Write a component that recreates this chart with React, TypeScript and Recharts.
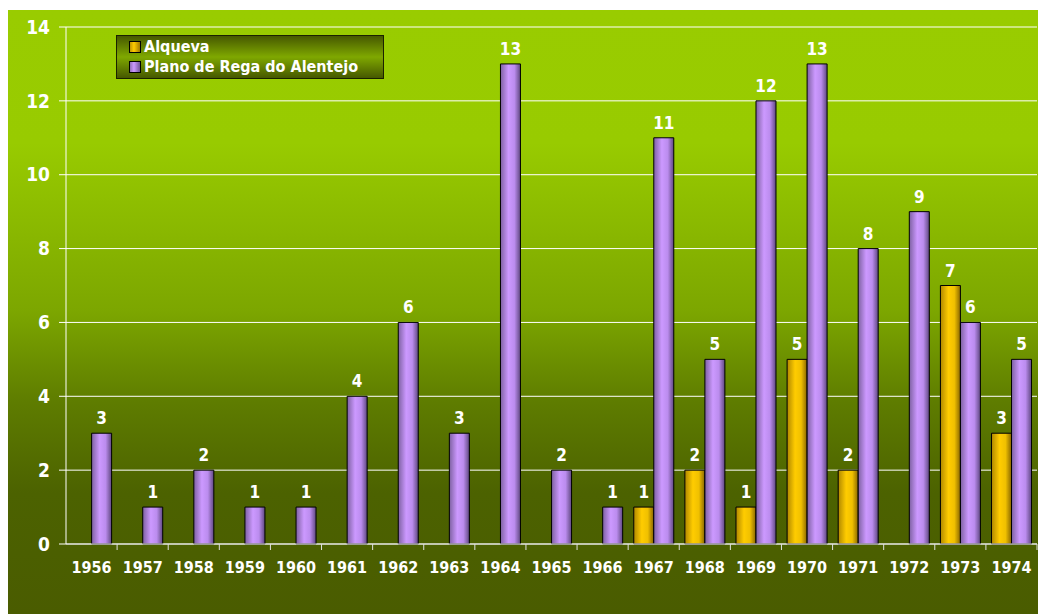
import { useLayoutEffect } from "react";
import { Bar, BarChart, CartesianGrid, LabelList, XAxis, YAxis } from "recharts";

const years = ["1956", "1957", "1958", "1959", "1960", "1961", "1962", "1963", "1964", "1965", "1966", "1967", "1968", "1969", "1970", "1971", "1972", "1973", "1974"];
const alqueva = [null, null, null, null, null, null, null, null, null, null, null, 1, 2, 1, 5, 2, null, 7, 3];
const planoRega = [3, 1, 2, 1, 1, 4, 6, 3, 13, 2, 1, 11, 5, 12, 13, 8, 9, 6, 5];
const yTicks = [0, 2, 4, 6, 8, 10, 12, 14];

const data = years.map((year, i) => ({ year, alqueva: alqueva[i], plano: planoRega[i] }));

const FONT = "'DejaVu Sans Condensed', 'DejaVu Sans', sans-serif";
const W = 1030;
const H = 604;
const margin = { top: 17, right: 1, bottom: 40, left: 8 };
const Y_W = 50;
const band = (W - margin.left - margin.right - Y_W) / years.length;

function XTick(props: any) {
  const { x, y, payload } = props;
  return (
    <g>
      <line x1={x + band / 2} x2={x + band / 2} y1={y} y2={y + 6} stroke="#e0e0e0" />
      <text x={x} y={y + 29} textAnchor="middle" fill="#fff" fontFamily={FONT} fontWeight="bold" fontSize={16}>
        {payload.value}
      </text>
    </g>
  );
}

function Swatch({ id }: { id: string }) {
  return (
    <svg width={12} height={12} style={{ marginRight: 3 }}>
      <defs>
        <linearGradient id={id + "-sw"} x1="0" y1="0" x2="1" y2="0">
          {id === "gold" ? (
            <>
              <stop offset="0" stopColor="#b88f00" />
              <stop offset="0.4" stopColor="#ffcc00" />
              <stop offset="1" stopColor="#9a7400" />
            </>
          ) : (
            <>
              <stop offset="0" stopColor="#8a6cae" />
              <stop offset="0.4" stopColor="#cc99ff" />
              <stop offset="1" stopColor="#6a5290" />
            </>
          )}
        </linearGradient>
      </defs>
      <rect x={0.5} y={0.5} width={11} height={11} fill={`url(#${id}-sw)`} stroke="#000" />
    </svg>
  );
}

function LegendBox() {
  return (
    <div
      style={{
        position: "absolute",
        left: 108,
        top: 25,
        width: 268,
        height: 44,
        border: "1px solid #1a2200",
        background: "linear-gradient(to bottom, #465800 0%, #7fa800 50%, #465800 100%)",
        fontFamily: FONT,
        fontWeight: "bold",
        fontSize: 16,
        color: "#fff",
        boxSizing: "border-box",
        padding: "1px 0 0 12px",
        lineHeight: "20px",
      }}
    >
      <div style={{ display: "flex", alignItems: "center" }}>
        <Swatch id="gold" />
        Alqueva
      </div>
      <div style={{ display: "flex", alignItems: "center" }}>
        <Swatch id="purple" />
        Plano de Rega do Alentejo
      </div>
    </div>
  );
}

const labelFmt = (v: any) => (v == null || v === 0 ? "" : v);

export default function App() {
  useLayoutEffect(() => {
    document.documentElement.style.overflow = "hidden";
    document.body.style.overflow = "hidden";
  }, []);
  return (
    <div
      style={{
        position: "fixed",
        left: 8,
        top: 10,
        width: W,
        height: H,
        background:
          "linear-gradient(to bottom, #99cc00 0%, #98cb00 22%, #7ca600 50%, #5e7c00 65%, #4c6200 80%, #4a5c00 100%)",
      }}
    >
      <BarChart width={W} height={H} data={data} margin={margin} barGap={0} barCategoryGap="11%">
        <defs>
          <linearGradient id="goldGrad" x1="0" y1="0" x2="1" y2="0">
            <stop offset="0" stopColor="#b08800" />
            <stop offset="0.4" stopColor="#ffcc00" />
            <stop offset="0.7" stopColor="#f0c000" />
            <stop offset="1" stopColor="#886600" />
          </linearGradient>
          <linearGradient id="purpleGrad" x1="0" y1="0" x2="1" y2="0">
            <stop offset="0" stopColor="#7e61a2" />
            <stop offset="0.4" stopColor="#cc99ff" />
            <stop offset="0.7" stopColor="#bb8cee" />
            <stop offset="1" stopColor="#5f4880" />
          </linearGradient>
        </defs>
        <CartesianGrid vertical={false} stroke="#ffffff" strokeWidth={1} />
        <XAxis
          dataKey="year"
          stroke="#e0e0e0"
          tickLine={false}
          tickSize={0}
          tickMargin={0}
          tick={<XTick />}
          interval={0}
          height={30}
        />
        <YAxis
          domain={[0, 14]}
          ticks={yTicks}
          width={Y_W}
          stroke="#ffffff"
          tickSize={7}
          tickMargin={9}
          tick={{ fill: "#fff", fontFamily: FONT, fontWeight: "bold", fontSize: 19 }}
          interval={0}
        />
        <Bar dataKey="alqueva" fill="url(#goldGrad)" stroke="#000" strokeWidth={1} isAnimationActive={false}>
          <LabelList dataKey="alqueva" position="top" offset={9} formatter={labelFmt} fill="#fff" fontFamily={FONT} fontWeight="bold" fontSize={17} />
        </Bar>
        <Bar dataKey="plano" fill="url(#purpleGrad)" stroke="#000" strokeWidth={1} isAnimationActive={false}>
          <LabelList dataKey="plano" position="top" offset={9} formatter={labelFmt} fill="#fff" fontFamily={FONT} fontWeight="bold" fontSize={17} />
        </Bar>
      </BarChart>
      <LegendBox />
    </div>
  );
}
